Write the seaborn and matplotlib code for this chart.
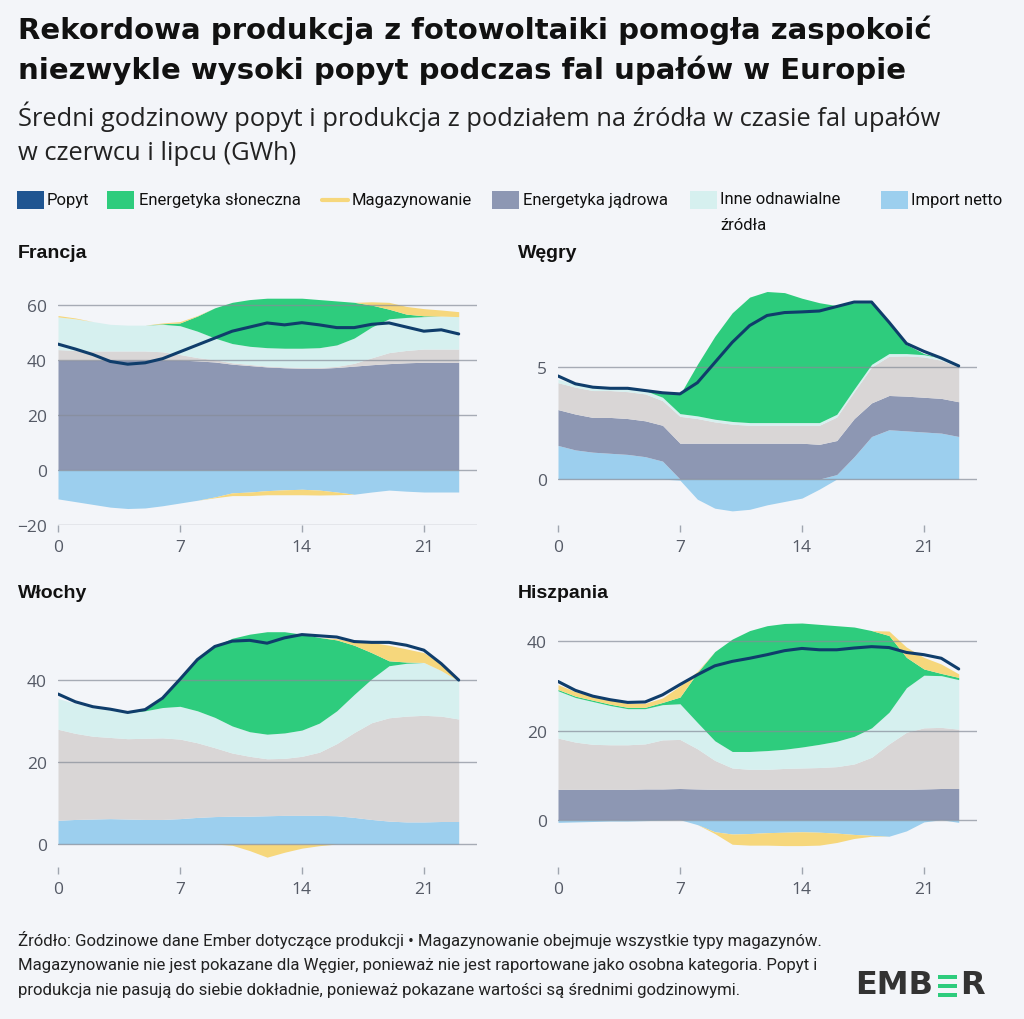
import numpy as np
import matplotlib.pyplot as plt
import seaborn as sns
from matplotlib.patches import Rectangle
from matplotlib.lines import Line2D

# ------------------------------
# Data (GWh, average per hour of day)
# ------------------------------
HOURS = list(range(24))
X_TICKS = [0, 7, 14, 21]

FR_DEMAND = [45.8, 44.0, 42.0, 39.5, 38.5, 39.0, 40.5, 43.0, 45.5, 48.0, 50.5, 52.0,
             53.5, 52.8, 53.6, 52.8, 51.8, 51.8, 53.0, 53.5, 52.0, 50.5, 51.0, 49.5]
FR_IMPORT = [-10.5, -11.5, -12.5, -13.5, -14.0, -13.8, -13.0, -12.0, -11.0, -9.8, -8.3, -8.0,
             -7.5, -7.2, -7.0, -7.3, -8.0, -8.8, -8.0, -7.3, -7.7, -8.0, -8.0, -8.0]
FR_NUCLEAR = [40.0, 40.0, 40.0, 40.0, 40.0, 40.0, 40.0, 40.0, 39.7, 39.3, 38.5, 38.0,
              37.5, 37.2, 37.0, 37.0, 37.3, 37.8, 38.3, 38.7, 39.0, 39.2, 39.2, 39.2]
FR_FOSSIL = [3.8, 3.5, 3.3, 3.3, 3.3, 3.3, 3.0, 2.0, 1.2, 0.8, 0.5, 0.4,
             0.3, 0.3, 0.3, 0.3, 0.4, 1.0, 2.5, 4.0, 4.5, 4.8, 4.8, 4.8]
FR_OTHER = [11.9, 11.5, 10.7, 9.7, 9.4, 9.4, 10.0, 10.5, 9.6, 7.9, 7.0, 6.6,
            6.7, 6.8, 7.0, 7.2, 7.8, 9.2, 11.2, 12.3, 12.0, 11.8, 12.0, 11.8]
FR_SOLAR = [0, 0, 0, 0, 0, 0, 0.2, 1.0, 5.5, 11.0, 15.0, 17.0,
            18.0, 18.2, 18.2, 17.5, 16.0, 13.0, 8.0, 3.5, 1.2, 0.3, 0, 0]
FR_STORAGE = [0.5, 0.3, 0, 0, 0, 0, 0.3, 0.5, 0.2, -0.3, -1.0, -1.3,
              -1.5, -1.8, -2.0, -1.8, -1.0, 0, 1.2, 2.5, 2.8, 2.6, 2.2, 1.8]

HU_DEMAND = [4.6, 4.25, 4.1, 4.05, 4.05, 3.95, 3.85, 3.8, 4.3, 5.2, 6.1, 6.85,
             7.3, 7.43, 7.46, 7.5, 7.7, 7.9, 7.9, 7.0, 6.05, 5.7, 5.4, 5.05]
HU_IMPORT = [1.5, 1.3, 1.2, 1.15, 1.1, 1.0, 0.8, -0.05, -0.9, -1.3, -1.42, -1.35,
             -1.15, -1.0, -0.85, -0.45, 0.2, 1.0, 1.9, 2.2, 2.15, 2.1, 2.05, 1.9]
HU_NUCLEAR = [1.6, 1.6, 1.55, 1.6, 1.6, 1.6, 1.6, 1.6, 1.6, 1.6, 1.6, 1.6,
              1.6, 1.6, 1.6, 1.55, 1.52, 1.7, 1.5, 1.53, 1.55, 1.55, 1.55, 1.55]
HU_FOSSIL = [1.2, 1.2, 1.2, 1.2, 1.2, 1.2, 1.1, 1.2, 1.1, 0.95, 0.85, 0.8,
             0.8, 0.8, 0.8, 0.85, 1.05, 1.2, 1.6, 1.75, 1.8, 1.8, 1.7, 1.55]
HU_OTHER = [0.15, 0.15, 0.15, 0.15, 0.15, 0.15, 0.15, 0.12, 0.12, 0.12, 0.12, 0.12,
            0.12, 0.12, 0.12, 0.12, 0.12, 0.12, 0.12, 0.12, 0.1, 0.1, 0.1, 0.1]
HU_SOLAR = [0, 0, 0, 0, 0, 0, 0.2, 0.85, 2.3, 3.7, 4.85, 5.6,
            5.85, 5.8, 5.55, 5.35, 4.85, 3.85, 2.75, 1.35, 0.4, 0.05, 0, 0]
HU_STORAGE = [0] * 24  # not reported separately for Hungary

IT_DEMAND = [36.6, 34.7, 33.5, 32.9, 32.1, 32.8, 35.6, 40.2, 45.0, 48.2, 49.5, 49.7,
             49.0, 50.3, 51.1, 50.8, 50.5, 49.4, 49.2, 49.2, 48.5, 47.3, 44.0, 40.0]
IT_IMPORT = [5.8, 6.0, 6.1, 6.2, 6.1, 6.0, 6.0, 6.2, 6.5, 6.7, 6.8, 6.8,
             6.9, 7.0, 7.0, 7.0, 6.9, 6.5, 6.0, 5.6, 5.4, 5.4, 5.5, 5.5]
IT_NUCLEAR = [0] * 24
IT_FOSSIL = [22.2, 21.0, 20.2, 19.8, 19.6, 19.8, 19.9, 19.4, 18.2, 16.8, 15.4, 14.6,
             13.9, 13.9, 14.4, 15.4, 17.6, 20.7, 23.6, 25.2, 25.8, 26.0, 25.7, 25.0]
IT_OTHER = [7.5, 7.3, 6.9, 6.8, 6.4, 6.7, 7.4, 8.0, 7.8, 7.4, 6.6, 6.0,
            6.0, 6.2, 6.4, 7.1, 8.0, 9.3, 10.7, 12.7, 12.9, 12.9, 11.1, 9.3]
IT_SOLAR = [0, 0, 0, 0, 0, 0.3, 2.2, 6.8, 12.5, 17.4, 21.4, 23.8,
            25.0, 24.7, 23.4, 20.9, 17.3, 12.0, 6.4, 1.2, 0.3, 0, 0, 0]
IT_STORAGE = [0, 0, 0, 0, 0, 0, 0, 0, 0, 0, -0.3, -1.6,
              -3.2, -2.0, -1.0, -0.4, 0.3, 0.8, 2.5, 3.8, 3.2, 2.4, 1.6, 0.2]

ES_DEMAND = [31.0, 29.0, 27.7, 26.9, 26.3, 26.4, 28.0, 30.3, 32.5, 34.5, 35.5, 36.2,
             37.0, 37.9, 38.4, 38.1, 38.1, 38.5, 38.8, 38.6, 37.5, 37.0, 36.2, 33.8]
ES_IMPORT = [-0.6, -0.5, -0.4, -0.3, -0.3, -0.2, -0.1, 0.0, -1.1, -2.7, -3.2, -3.1,
             -2.9, -2.8, -2.7, -2.8, -3.0, -3.3, -3.5, -3.7, -2.5, -0.5, 0.0, -0.6]
ES_NUCLEAR = [6.8, 6.8, 6.8, 6.8, 6.8, 6.9, 6.9, 7.0, 6.9, 6.8, 6.8, 6.8,
              6.8, 6.8, 6.8, 6.8, 6.8, 6.8, 6.8, 6.8, 6.8, 6.9, 7.0, 7.0]
ES_FOSSIL = [11.5, 10.6, 10.1, 10.0, 10.0, 10.1, 11.0, 11.0, 9.0, 6.5, 4.8, 4.5,
             4.5, 4.7, 4.8, 4.9, 5.1, 5.7, 7.2, 10.2, 12.8, 13.7, 13.7, 13.3]
ES_OTHER = [10.6, 10.0, 9.6, 8.8, 8.1, 7.9, 7.9, 8.0, 5.9, 4.4, 3.7, 4.0,
            4.2, 4.3, 4.7, 5.2, 5.7, 6.2, 6.6, 7.1, 10.0, 11.8, 11.6, 11.1]
ES_SOLAR = [0.3, 0.3, 0.3, 0.3, 0.3, 0.3, 0.5, 1.5, 11.2, 20.0, 25.2, 27.1,
            28.0, 28.2, 27.8, 26.9, 25.9, 24.5, 21.8, 17.2, 6.8, 1.4, 0.5, 0.5]
ES_STORAGE = [1.1, 1.0, 0.9, 0.9, 0.9, 0.9, 1.0, 2.5, 0.3, -0.4, -2.3, -2.6,
              -2.8, -3.0, -3.1, -2.9, -2.1, -0.9, -0.2, 1.0, 2.3, 2.6, 2.1, 0.8]

LEGEND_LABELS = ['Popyt', 'Energetyka słoneczna', 'Magazynowanie',
                 'Energetyka jądrowa', 'Inne odnawialne\nźródła', 'Import netto']

# ------------------------------
# Style
# ------------------------------
BG = '#f3f5f9'
C_DEMAND = '#0f3d6b'
C_DEMAND_KEY = '#1f5591'
C_SOLAR = '#2ecc7d'
C_STORAGE = '#f6d77c'
C_NUCLEAR = '#8d97b3'
C_FOSSIL = '#d9d6d6'
C_OTHER = '#d6f0ef'
C_IMPORT = '#9ccfee'
C_TICK = '#555a66'

W, H = 1024, 1020

sns.set_style('white', rc={'figure.facecolor': BG, 'axes.facecolor': BG})
plt.rcParams['font.family'] = ['Roboto', 'DejaVu Sans']


def fx(px):
    return px / W


def fy(py):
    return 1 - py / H


def draw_panel(ax, demand, imp, nuc, fos, oth, sol, sto, ylim, yticks):
    h = np.array(HOURS)
    pos_layers = [(imp, C_IMPORT), (nuc, C_NUCLEAR), (fos, C_FOSSIL),
                  (oth, C_OTHER), (sol, C_SOLAR), (sto, C_STORAGE)]
    base = np.zeros(len(h))
    for vals, col in pos_layers:
        v = np.clip(np.array(vals, dtype=float), 0, None)
        ax.fill_between(h, base, base + v, color=col, lw=0, zorder=1)
        base = base + v

    nbase = np.zeros(len(h))
    for vals, col in [(imp, C_IMPORT), (sto, C_STORAGE)]:
        v = np.clip(np.array(vals, dtype=float), None, 0)
        ax.fill_between(h, nbase, nbase + v, color=col, lw=0, zorder=1)
        nbase = nbase + v

    sns.lineplot(x=h, y=demand, ax=ax, color=C_DEMAND, lw=2.2, zorder=4)

    ax.set_xlim(0, 24.05)
    ax.set_ylim(*ylim)
    ax.set_xticks(X_TICKS)
    ax.set_yticks(yticks)
    ax.set_axisbelow(False)
    ax.yaxis.grid(True, color='#868c98', lw=1.0, alpha=0.7)
    ax.xaxis.grid(False)
    for s in ax.spines.values():
        s.set_visible(False)
    ax.tick_params(axis='x', length=5, width=1, color='#a0a6b0', pad=5,
                   labelsize=12.5, labelcolor=C_TICK, bottom=True)
    ax.tick_params(axis='y', length=0, pad=8, labelsize=12.5, labelcolor=C_TICK)
    for lab in ax.get_xticklabels() + ax.get_yticklabels():
        lab.set_family(['Open Sans', 'DejaVu Sans'])
    ax.set_xlabel('')
    ax.set_ylabel('')


fig = plt.figure(figsize=(W / 100, H / 100), dpi=100)

# panel boxes in pixels: (left, top, bottom)
panels = [
    ('Francja', 58, 286, 526, 253,
     (FR_DEMAND, FR_IMPORT, FR_NUCLEAR, FR_FOSSIL, FR_OTHER, FR_SOLAR, FR_STORAGE),
     (-20, 67.3), [-20, 0, 20, 40, 60]),
    ('Węgry', 558, 286, 526, 253,
     (HU_DEMAND, HU_IMPORT, HU_NUCLEAR, HU_FOSSIL, HU_OTHER, HU_SOLAR, HU_STORAGE),
     (-2.05, 8.66), [0, 5]),
    ('Włochy', 58, 620, 868, 594,
     (IT_DEMAND, IT_IMPORT, IT_NUCLEAR, IT_FOSSIL, IT_OTHER, IT_SOLAR, IT_STORAGE),
     (-5.6, 54.9), [0, 20, 40]),
    ('Hiszpania', 558, 620, 868, 594,
     (ES_DEMAND, ES_IMPORT, ES_NUCLEAR, ES_FOSSIL, ES_OTHER, ES_SOLAR, ES_STORAGE),
     (-10.6, 45.0), [0, 20, 40]),
]

for name, left, top, bottom, title_y, series, ylim, yticks in panels:
    ax = fig.add_axes([fx(left), fy(bottom), 419 / W, (bottom - top) / H])
    draw_panel(ax, *series, ylim, yticks)
    fig.text(fx(left - 40), fy(title_y), name, fontsize=14, fontweight='bold',
             family=['Liberation Sans', 'DejaVu Sans'], color='#111111', va='center')

# ------------------------------
# Titles
# ------------------------------
fig.text(fx(18), fy(30), 'Rekordowa produkcja z fotowoltaiki pomogła zaspokoić',
         fontsize=21, fontweight='bold', family=['DejaVu Sans'], color='#111111', va='center')
fig.text(fx(18), fy(70), 'niezwykle wysoki popyt podczas fal upałów w Europie',
         fontsize=21, fontweight='bold', family=['DejaVu Sans'], color='#111111', va='center')
fig.text(fx(18), fy(117), 'Średni godzinowy popyt i produkcja z podziałem na źródła w czasie fal upałów',
         fontsize=18.4, family=['Open Sans', 'DejaVu Sans'], color='#222222', va='center')
fig.text(fx(18), fy(153), 'w czerwcu i lipcu (GWh)',
         fontsize=18.4, family=['Open Sans', 'DejaVu Sans'], color='#222222', va='center')

# ------------------------------
# Legend (manual row)
# ------------------------------
keys = [
    (17, 47, 'box', C_DEMAND_KEY),
    (107, 139, 'box', C_SOLAR),
    (322, 352, 'dash', C_STORAGE),
    (492, 523, 'box', C_NUCLEAR),
    (690, 720, 'box', C_OTHER),
    (881, 911, 'box', C_IMPORT),
]
for (kx, tx, kind, col), label in zip(keys, LEGEND_LABELS):
    if kind == 'box':
        fig.patches.append(Rectangle((fx(kx), fy(210)), 27 / W, 18 / H,
                                     transform=fig.transFigure, color=col, lw=0))
    else:
        fig.lines.append(Line2D([fx(kx), fx(kx + 26)], [fy(201), fy(201)],
                                transform=fig.transFigure, color=col, lw=3))
    multi = '\n' in label
    fig.text(fx(tx), fy(192) if multi else fy(200), label, fontsize=12, color='#111111',
             va='top' if multi else 'center', linespacing=1.95)

# ------------------------------
# Footnote and logo
# ------------------------------
notes = [
    'Źródło: Godzinowe dane Ember dotyczące produkcji • Magazynowanie obejmuje wszystkie typy magazynów.',
    'Magazynowanie nie jest pokazane dla Węgier, ponieważ nie jest raportowane jako osobna kategoria. Popyt i',
    'produkcja nie pasują do siebie dokładnie, ponieważ pokazane wartości są średnimi godzinowymi.',
]
for i, line in enumerate(notes):
    fig.text(fx(18), fy(940 + 25.5 * i), line, fontsize=12.1, color='#222222', va='center')

fig.text(fx(933), fy(986), 'EMB', fontsize=23, fontweight='bold', color='#333333',
         family=['DejaVu Sans'], ha='right', va='center')
for by in (976, 985, 994):
    fig.patches.append(Rectangle((fx(938), fy(by + 4)), 19 / W, 4 / H,
                                 transform=fig.transFigure, color='#2ecc7d', lw=0))
fig.text(fx(960), fy(986), 'R', fontsize=23, fontweight='bold', color='#333333',
         family=['DejaVu Sans'], ha='left', va='center')

fig.savefig('out.png', dpi=100, facecolor=BG)
